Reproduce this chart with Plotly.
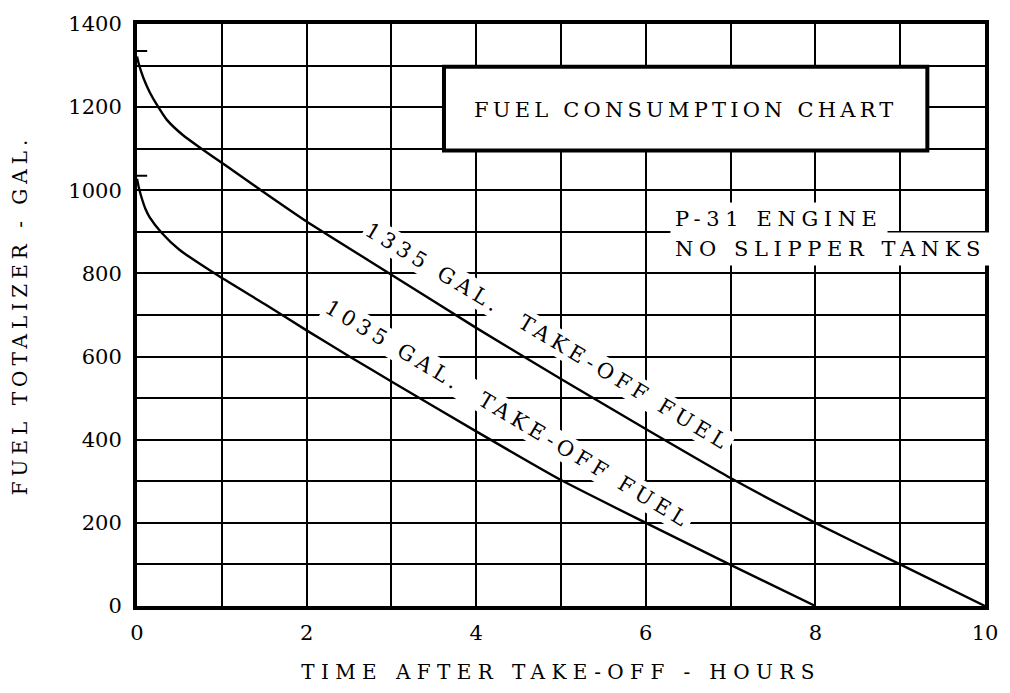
import plotly.graph_objects as go

# ---- data ----
hours_1335 = [0, 0.02, 0.05, 0.1, 0.15, 0.23, 0.35, 0.54, 0.74, 1.03, 1.47, 2.0, 3.0, 4.0, 5.0, 6.0, 7.0, 8.0, 9.0, 10.0]
fuel_1335 = [1322, 1305, 1285, 1258, 1236, 1207, 1170, 1133, 1103, 1062, 999, 925, 797, 669, 546, 426, 308, 200, 100, 0]

hours_1035 = [0, 0.02, 0.05, 0.1, 0.15, 0.29, 0.5, 0.97, 1.5, 2.0, 2.5, 3.0, 4.0, 5.0, 6.0, 7.0, 8.0]
fuel_1035 = [1028, 1008, 985, 955, 935, 898, 857, 793, 727, 663, 601, 540, 420, 303, 200, 99, 0]

takeoff_fuel = [1335, 1035]
x_tick_vals = [0, 2, 4, 6, 8, 10]
y_tick_vals = [0, 200, 400, 600, 800, 1000, 1200, 1400]

SERIF = "DejaVu Serif"


def spaced(text, px):
    return f'<span style="letter-spacing:{px}px">{text}</span>'


fig = go.Figure()

for hrs, fuel in [(hours_1335, fuel_1335), (hours_1035, fuel_1035)]:
    fig.add_trace(go.Scatter(x=hrs, y=fuel, mode="lines",
                             line=dict(color="black", width=2.4, shape="spline", smoothing=0.5),
                             hoverinfo="skip", showlegend=False))

# short index marks on the fuel axis at the take-off fuel values
for v in takeoff_fuel:
    fig.add_trace(go.Scatter(x=[0, 0.12], y=[v, v], mode="lines",
                             line=dict(color="black", width=2),
                             hoverinfo="skip", showlegend=False))

axis_common = dict(
    showline=True, mirror=True, linecolor="black", linewidth=4,
    showgrid=True, gridcolor="black", gridwidth=1.5,
    ticks="", zeroline=False,
    tickfont=dict(family=SERIF, size=21, color="black"),
)

fig.update_xaxes(
    range=[0, 10], tickvals=x_tick_vals,
    minor=dict(dtick=1, showgrid=True, gridcolor="black", gridwidth=1.5),
    ticklabelstandoff=5,
    title=dict(text=spaced("TIME AFTER TAKE-OFF - HOURS", 6.4),
               font=dict(family=SERIF, size=20, color="black"), standoff=22),
    **axis_common,
)
fig.update_yaxes(
    range=[0, 1400], tickvals=y_tick_vals,
    minor=dict(dtick=100, showgrid=True, gridcolor="black", gridwidth=1.5),
    ticklabelstandoff=7,
    title=dict(text=spaced("FUEL TOTALIZER - GAL.", 5),
               font=dict(family=SERIF, size=20, color="black"), standoff=36),
    **axis_common,
)

# title box
fig.add_shape(type="rect", xref="x", yref="y", x0=3.62, x1=9.32, y0=1096, y1=1297,
              fillcolor="white", line=dict(color="black", width=4), layer="above")

fig.add_annotation(x=6.47, y=1194, xref="x", yref="y", showarrow=False,
                   text=spaced("FUEL CONSUMPTION CHART", 4.2),
                   font=dict(family=SERIF, size=21, color="black"))

fig.add_annotation(x=6.29, y=932, xref="x", yref="y", showarrow=False,
                   xanchor="left", yanchor="middle",
                   text=spaced("P-31 ENGINE", 5.6),
                   bgcolor="white", borderpad=4,
                   font=dict(family=SERIF, size=21, color="black"))
fig.add_annotation(x=6.29, y=859, xref="x", yref="y", showarrow=False,
                   xanchor="left", yanchor="middle",
                   text=spaced("NO SLIPPER TANKS", 5.6),
                   bgcolor="white", borderpad=4,
                   font=dict(family=SERIF, size=21, color="black"))

fig.add_annotation(x=4.85, y=648, xref="x", yref="y", showarrow=False, textangle=31,
                   text=spaced("1335 GAL.&nbsp; TAKE-OFF FUEL", 4.8),
                   bgcolor="white", borderpad=1,
                   font=dict(family=SERIF, size=21, color="black"))

fig.add_annotation(x=4.37, y=462, xref="x", yref="y", showarrow=False, textangle=31,
                   text=spaced("1035 GAL.&nbsp; TAKE-OFF FUEL", 4.8),
                   bgcolor="white", borderpad=1,
                   font=dict(family=SERIF, size=21, color="black"))

fig.update_layout(
    width=1010, height=693,
    margin=dict(l=137, r=17, t=17, b=78),
    paper_bgcolor="white", plot_bgcolor="white",
    showlegend=False,
)

fig.write_html(
    "out.html",
    config={"displayModeBar": False},
    post_script=("document.body.style.margin='0';"
                 "document.body.style.overflow='hidden';"
                 "document.documentElement.style.overflow='hidden';"),
)
